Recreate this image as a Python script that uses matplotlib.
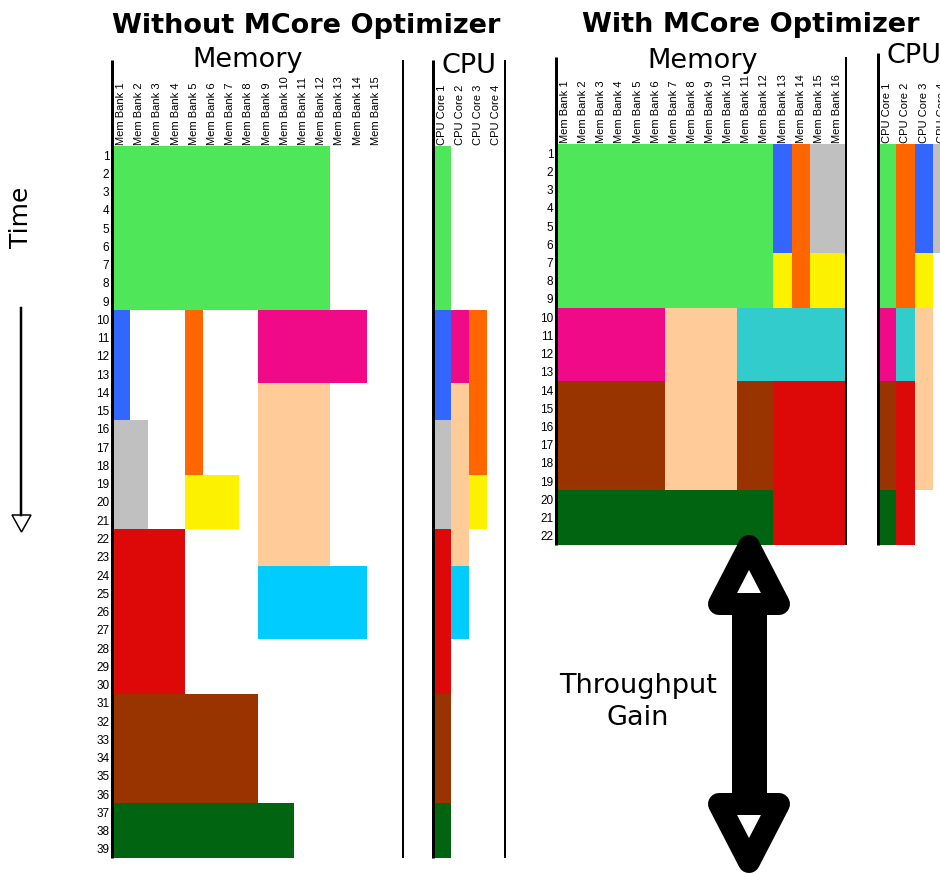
import matplotlib
matplotlib.use("Agg")
import matplotlib.pyplot as plt
import numpy as np
from matplotlib.lines import Line2D
from matplotlib.patches import Polygon

# ---------------- data ----------------
mem_banks_without = [f"Mem Bank {i}" for i in range(1, 16)]
mem_banks_with = [f"Mem Bank {i}" for i in range(1, 17)]
cpu_cores = [f"CPU Core {i}" for i in range(1, 5)]
time_steps_without = list(range(1, 40))
time_steps_with = list(range(1, 23))

task_colors = {
    "green": "#50E65A", "blue": "#3366FF", "orange": "#FF6600",
    "grey": "#C0C0C0", "yellow": "#FCF200", "magenta": "#F00A88",
    "peach": "#FFCC99", "red": "#DD0808", "cyan": "#00CCFF",
    "teal": "#33CCCC", "brown": "#993300", "darkgreen": "#006411",
}

# (task, first unit, number of units, first time step, number of time steps)
without_mem = [
    ("green", 1, 12, 1, 9), ("blue", 1, 1, 10, 6), ("orange", 5, 1, 10, 9),
    ("magenta", 9, 6, 10, 4), ("peach", 9, 4, 14, 10), ("grey", 1, 2, 16, 6),
    ("yellow", 5, 3, 19, 3), ("red", 1, 4, 22, 9), ("cyan", 9, 6, 24, 4),
    ("brown", 1, 8, 31, 6), ("darkgreen", 1, 10, 37, 3),
]
without_cpu = [
    ("green", 1, 1, 1, 9), ("blue", 1, 1, 10, 6), ("grey", 1, 1, 16, 6),
    ("red", 1, 1, 22, 9), ("brown", 1, 1, 31, 6), ("darkgreen", 1, 1, 37, 3),
    ("magenta", 2, 1, 10, 4), ("peach", 2, 1, 14, 10), ("cyan", 2, 1, 24, 4),
    ("orange", 3, 1, 10, 9), ("yellow", 3, 1, 19, 3),
]
with_mem = [
    ("green", 1, 12, 1, 9), ("blue", 13, 1, 1, 6), ("orange", 14, 1, 1, 9),
    ("grey", 15, 2, 1, 6), ("yellow", 13, 1, 7, 3), ("yellow", 15, 2, 7, 3),
    ("magenta", 1, 6, 10, 4), ("peach", 7, 4, 10, 10), ("teal", 11, 6, 10, 4),
    ("brown", 1, 6, 14, 6), ("brown", 11, 2, 14, 6), ("red", 13, 4, 14, 9),
    ("darkgreen", 1, 12, 20, 3),
]
with_cpu = [
    ("green", 1, 1, 1, 9), ("magenta", 1, 1, 10, 4), ("brown", 1, 1, 14, 6),
    ("darkgreen", 1, 1, 20, 3), ("orange", 2, 1, 1, 9), ("teal", 2, 1, 10, 4),
    ("red", 2, 1, 14, 9), ("blue", 3, 1, 1, 6), ("yellow", 3, 1, 7, 3),
    ("peach", 3, 1, 10, 10), ("grey", 4, 1, 1, 6),
]

# ---------------- layout ----------------
W, H = 940, 873
fig = plt.figure(figsize=(W / 100, H / 100), dpi=100)
fig.patch.set_facecolor("white")
PT = 72 / 100  # points per pixel
BIG = "DejaVu Sans"
SMALL = "Liberation Sans"


def fx(x):
    return x / W


def fy(y):
    return 1 - y / H


def add_ax(x0, y0, x1, y1):
    return fig.add_axes([fx(x0), fy(y1), (x1 - x0) / W, (y1 - y0) / H])


def panel(ax, blocks, labels, ncols, times, show_rows, top_px, y0, y1,
          left_lw=3, right_lw=None):
    for task, u0, nu, t0, nt in blocks:
        ax.bar(u0 - 1, nt, width=nu, bottom=t0 - 1, align="edge",
               color=task_colors[task], linewidth=0)
    ax.set_xlim(0, ncols)
    ax.set_ylim(len(times), 0)
    for s in ax.spines.values():
        s.set_visible(False)
    ax.xaxis.tick_top()
    ax.set_xticks(np.arange(len(labels)) + 0.5)
    ax.set_xticklabels(labels, rotation=90, fontsize=8, family=SMALL)
    ax.tick_params(axis="x", length=0, pad=1)
    if show_rows:
        ax.set_yticks(np.arange(len(times)) + 0.5)
        ax.set_yticklabels([str(t) for t in times], fontsize=8.5, family=SMALL)
        ax.tick_params(axis="y", length=0, pad=2)
    else:
        ax.set_yticks([])
    ext = (y1 - top_px) / (y1 - y0)
    tr = ax.get_xaxis_transform()
    ax.plot([0, 0], [0, ext], transform=tr, clip_on=False, color="black",
            lw=left_lw * PT, solid_capstyle="butt")
    if right_lw:
        ax.plot([ncols, ncols], [0, ext], transform=tr, clip_on=False,
                color="black", lw=right_lw * PT, solid_capstyle="butt")


ax1 = add_ax(112, 146, 403, 858)
panel(ax1, without_mem, mem_banks_without, 16, time_steps_without, True, 60, 146, 858, 3, 2)
ax2 = add_ax(433, 146, 505, 858)
panel(ax2, without_cpu, cpu_cores, 4, time_steps_without, False, 60, 146, 858, 3, 2)
ax3 = add_ax(556, 144, 846, 545)
panel(ax3, with_mem, mem_banks_with, 16, time_steps_with, True, 57, 144, 545, 3, 2)
ax4 = add_ax(878, 144, 951, 545)
panel(ax4, with_cpu, cpu_cores, 4, time_steps_with, False, 53, 144, 545, 3, None)

# ---------------- text ----------------
fig.text(fx(306), fy(33), "Without MCore Optimizer", ha="center", va="baseline",
         fontsize=19.5, fontweight="bold", family=BIG)
fig.text(fx(751), fy(32), "With MCore Optimizer", ha="center", va="baseline",
         fontsize=19.5, fontweight="bold", family=BIG)
fig.text(fx(248), fy(67), "Memory", ha="center", va="baseline", fontsize=19.5, family=BIG)
fig.text(fx(469), fy(73), "CPU", ha="center", va="baseline", fontsize=19.5, family=BIG)
fig.text(fx(703), fy(68), "Memory", ha="center", va="baseline", fontsize=19.5, family=BIG)
fig.text(fx(914), fy(63), "CPU", ha="center", va="baseline", fontsize=19.5, family=BIG)
fig.text(fx(21), fy(217), "Time", ha="center", va="center", rotation=90,
         fontsize=18, family=BIG)
fig.text(fx(638), fy(693), "Throughput", ha="center", va="baseline", fontsize=19.5, family=BIG)
fig.text(fx(638), fy(725), "Gain", ha="center", va="baseline", fontsize=19.5, family=BIG)

# time arrow
fig.add_artist(Line2D([fx(21), fx(21)], [fy(308), fy(515)], color="black",
                      lw=2.5 * PT, transform=fig.transFigure))
fig.add_artist(Polygon([(fx(12), fy(515)), (fx(31), fy(515)), (fx(21.5), fy(532))],
                       closed=True, facecolor="white", edgecolor="black",
                       lw=1.5 * PT, transform=fig.transFigure))

# throughput arrow
for tip, base in [(546, 604), (862, 804)]:
    fig.add_artist(Polygon([(fx(749), fy(tip)), (fx(719), fy(base)), (fx(779), fy(base))],
                           closed=True, facecolor="white", edgecolor="black",
                           lw=22 * PT, joinstyle="round", transform=fig.transFigure,
                           zorder=3))
fig.add_artist(Line2D([fx(749), fx(749)], [fy(604), fy(804)], color="black",
                      lw=35 * PT, solid_capstyle="butt", transform=fig.transFigure,
                      zorder=4))

fig.savefig("out.png", dpi=100, facecolor="white")
